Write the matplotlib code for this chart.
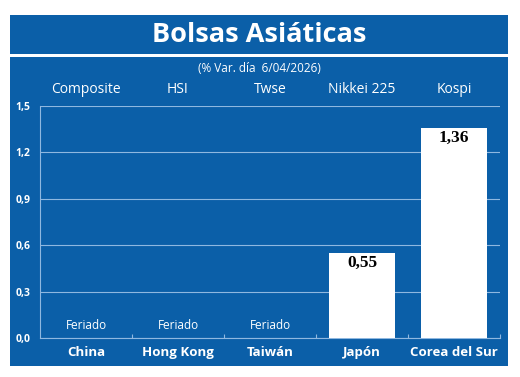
import matplotlib
matplotlib.use('Agg')
import matplotlib.pyplot as plt
from matplotlib.patches import Rectangle
from matplotlib.transforms import ScaledTranslation
import numpy as np

# datos del grafico
countries = ['China', 'Hong Kong', 'Taiwán', 'Japón', 'Corea del Sur']
indices = ['Composite', 'HSI', 'Twse', 'Nikkei 225', 'Kospi']
values = [np.nan, np.nan, np.nan, 0.55, 1.36]   # nan = feriado
yticks = [0.0, 0.3, 0.6, 0.9, 1.2, 1.5]

BLUE = '#0b5fa8'
GRID = '#8fb8e0'
FONT = 'Open Sans'

fig = plt.figure(figsize=(5.2, 3.77), dpi=100)
fig.patch.set_facecolor('white')

W, H = 520, 377
def fbox(x0, y0, x1, y1):
    # pixel box (top-left origin) -> figure rectangle
    return Rectangle((x0 / W, 1 - y1 / H), (x1 - x0) / W, (y1 - y0) / H,
                     transform=fig.transFigure, facecolor=BLUE, edgecolor='none', zorder=0)

fig.patches.append(fbox(10, 15, 508, 54))
fig.patches.append(fbox(10, 57, 508, 366))

fig.text(259 / W, 1 - 35 / H, 'Bolsas Asiáticas', color='white', fontsize=19.5,
         fontweight='bold', family=FONT, ha='center', va='center')
fig.text(259 / W, 1 - 69 / H, '(% Var. día  6/04/2026)', color='white', fontsize=8.5,
         family=FONT, ha='center', va='center')

ax = fig.add_axes([40 / W, 1 - 338 / H, 460 / W, 232 / H])
ax.set_zorder(2)
ax.set_facecolor('none')

x = np.arange(len(countries))
vals = np.array(values)
bars = ax.bar(x, np.nan_to_num(vals), width=0.72, color='white', zorder=3)

ax.set_xlim(-0.5, len(countries) - 0.5)
ax.set_ylim(0, 1.5)

for i, v in enumerate(vals):
    if np.isnan(v):
        ax.text(i, 0.08, 'Feriado', color='white', fontsize=8.5, family=FONT,
                ha='center', va='center')
    else:
        ax.text(i, v - 0.065, f'{v:.2f}'.replace('.', ','), color='black', fontsize=12.5,
                fontweight='bold', family='Liberation Serif', ha='center', va='center', zorder=4)

# nombres de los indices arriba
for i, name in enumerate(indices):
    ax.text(i, 1.605, name, color='white', fontsize=10, family=FONT,
            ha='center', va='center', clip_on=False)

ax.set_yticks(yticks)
ax.set_yticklabels([f'{t:.1f}'.replace('.', ',') for t in yticks],
                   color='white', fontsize=7.5, fontweight='bold', family=FONT)
for lab in ax.get_yticklabels():
    lab.set_transform(lab.get_transform() + ScaledTranslation(0, -4 / 72, fig.dpi_scale_trans))
ax.tick_params(axis='y', length=0, pad=7)

ax.set_xticks(x)
ax.set_xticklabels(countries, color='white', fontsize=9.5, fontweight='bold', family=FONT)
ax.tick_params(axis='x', length=0, pad=6)
ax.set_xticks(np.arange(len(countries)) + 0.5, minor=True)
ax.tick_params(axis='x', which='minor', direction='in', length=3, color=GRID, width=0.8)

ax.yaxis.grid(True, color=GRID, linewidth=0.8, zorder=1)
ax.set_axisbelow(True)
for s in ['top', 'right']:
    ax.spines[s].set_visible(False)
for s in ['left', 'bottom']:
    ax.spines[s].set_color(GRID)
    ax.spines[s].set_linewidth(0.8)

fig.savefig('out.png', dpi=100)
